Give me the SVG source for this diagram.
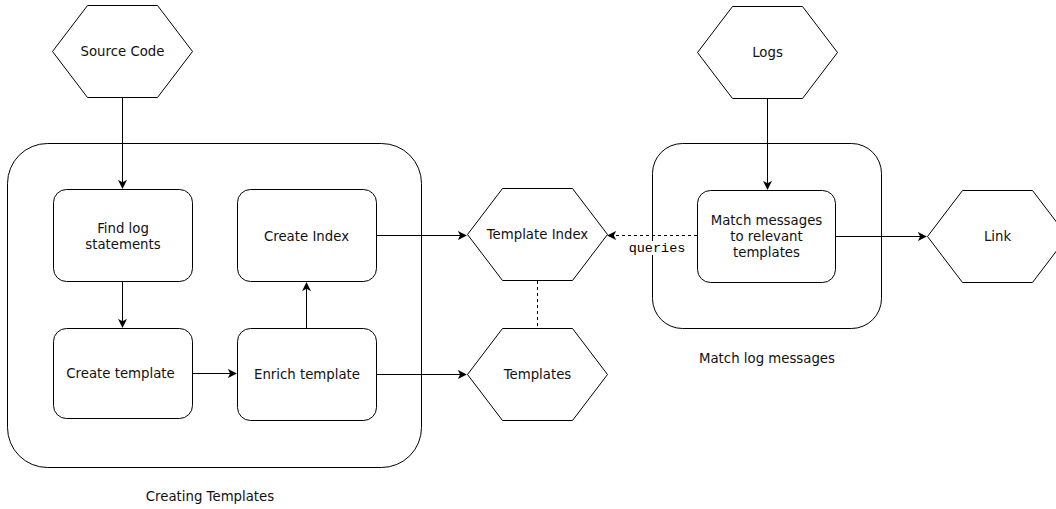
<svg xmlns="http://www.w3.org/2000/svg" width="1056" height="509" viewBox="0 0 1056 509">
  <style>
    .shape { fill: #ffffff; stroke: #000000; stroke-width: 1; }
    .edge { fill: none; stroke: #000000; stroke-width: 1; }
    .dash { stroke-dasharray: 3 3; }
    .lbl { font-family: "DejaVu Sans", Verdana, sans-serif; font-size: 13.3px; fill: #111111; text-anchor: middle; dominant-baseline: central; }
    .mono { font-family: "Liberation Mono", "Courier New", monospace; font-size: 13.5px; fill: #000000; text-anchor: middle; dominant-baseline: central; }
  </style>
  <defs>
    <marker id="arrow" viewBox="0 0 10 10" refX="9" refY="5" markerWidth="9" markerHeight="9" markerUnits="userSpaceOnUse" orient="auto">
      <path d="M0,0 L10,5 L0,10 L2.5,5 Z" fill="#000000"/>
    </marker>
  </defs>

  <rect width="1056" height="509" fill="#ffffff"/>

  <!-- containers -->
  <g id="creating-templates">
    <rect class="shape" x="7.5" y="143.5" width="414" height="324" rx="40" ry="40"/>
    <text class="lbl" x="210" y="496">Creating Templates</text>
  </g>
  <g id="match-log-messages">
    <rect class="shape" x="652.5" y="143.5" width="229" height="185" rx="30" ry="30"/>
    <text class="lbl" x="767" y="358">Match log messages</text>
  </g>

  <!-- connectors -->
  <g id="connectors">
    <path class="edge" d="M122.5,97 L122.5,188" marker-end="url(#arrow)"/>
    <path class="edge" d="M122.5,281 L122.5,327" marker-end="url(#arrow)"/>
    <path class="edge" d="M192,373.5 L236,373.5" marker-end="url(#arrow)"/>
    <path class="edge" d="M306.5,328 L306.5,283" marker-end="url(#arrow)"/>
    <path class="edge" d="M376,235.5 L466,235.5" marker-end="url(#arrow)"/>
    <path class="edge" d="M376,374.5 L466,374.5" marker-end="url(#arrow)"/>
    <path class="edge dash" d="M537.5,281 L537.5,328"/>
    <path class="edge" d="M767.5,98 L767.5,189" marker-end="url(#arrow)"/>
    <path class="edge" d="M835,236.5 L926,236.5" marker-end="url(#arrow)"/>
    <path class="edge dash" d="M697,235.5 L608,235.5" marker-end="url(#arrow)"/>
    <rect x="630" y="241" width="54" height="14" fill="#ffffff"/>
    <text class="mono" x="657" y="248">queries</text>
  </g>

  <!-- hexagon nodes -->
  <g id="source-code">
    <polygon class="shape" points="87.5,5.5 157.5,5.5 192.5,51.5 157.5,97.5 87.5,97.5 52.5,51.5"/>
    <text class="lbl" x="122.5" y="51.5">Source Code</text>
  </g>
  <g id="logs">
    <polygon class="shape" points="732.5,6.5 802.5,6.5 837.5,52.5 802.5,98.5 732.5,98.5 697.5,52.5"/>
    <text class="lbl" x="767.5" y="52.5">Logs</text>
  </g>
  <g id="template-index">
    <polygon class="shape" points="502.5,188.5 572.5,188.5 607.5,234.5 572.5,280.5 502.5,280.5 467.5,234.5"/>
    <text class="lbl" x="537.5" y="234.5">Template Index</text>
  </g>
  <g id="templates">
    <polygon class="shape" points="502.5,328.5 572.5,328.5 607.5,374.5 572.5,420.5 502.5,420.5 467.5,374.5"/>
    <text class="lbl" x="537.5" y="374.5">Templates</text>
  </g>
  <g id="link">
    <polygon class="shape" points="962.5,190.5 1032.5,190.5 1067.5,236.5 1032.5,282.5 962.5,282.5 927.5,236.5"/>
    <text class="lbl" x="997.5" y="236.5">Link</text>
  </g>

  <!-- process nodes -->
  <g id="find-log-statements">
    <rect class="shape" x="53.5" y="189.5" width="139" height="92" rx="13" ry="13"/>
    <text class="lbl" x="123" y="228">Find log</text>
    <text class="lbl" x="123" y="244">statements</text>
  </g>
  <g id="create-template">
    <rect class="shape" x="53.5" y="328.5" width="139" height="90" rx="13" ry="13"/>
    <text class="lbl" x="120.5" y="373">Create template</text>
  </g>
  <g id="create-index">
    <rect class="shape" x="237.5" y="189.5" width="139" height="92" rx="13" ry="13"/>
    <text class="lbl" x="306.5" y="236">Create Index</text>
  </g>
  <g id="enrich-template">
    <rect class="shape" x="237.5" y="328.5" width="139" height="92" rx="13" ry="13"/>
    <text class="lbl" x="307" y="374">Enrich template</text>
  </g>
  <g id="match-messages">
    <rect class="shape" x="697.5" y="190.5" width="138" height="92" rx="13" ry="13"/>
    <text class="lbl" x="766.5" y="220">Match messages</text>
    <text class="lbl" x="766.5" y="236">to relevant</text>
    <text class="lbl" x="766.5" y="252">templates</text>
  </g>
</svg>
